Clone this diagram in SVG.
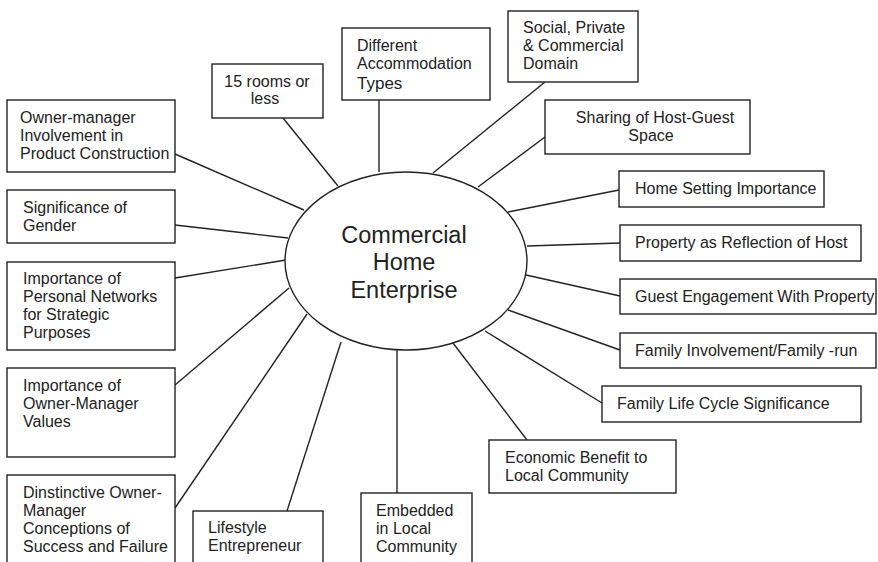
<svg xmlns="http://www.w3.org/2000/svg" width="878" height="562" viewBox="0 0 878 562">
  <style>
    .box { fill: #ffffff; stroke: #222222; stroke-width: 1.4; }
    .hub { fill: #ffffff; stroke: #222222; stroke-width: 1.4; }
    .link { stroke: #222222; stroke-width: 1.4; fill: none; }
    .lbl { font-family: "Liberation Sans", Arial, Helvetica, sans-serif; font-size: 16px; fill: #222222; }
    .mid { text-anchor: middle; }
    .hubtxt { font-family: "Liberation Sans", Arial, Helvetica, sans-serif; font-size: 23.5px; fill: #222222; text-anchor: middle; }
  </style>
  <rect width="878" height="562" fill="#ffffff"/>

  <!-- spokes from the central ellipse to each box -->
  <g id="connectors">
    <line class="link" x1="283" y1="118" x2="338" y2="186"/>
    <line class="link" x1="379" y1="100" x2="379" y2="172"/>
    <line class="link" x1="545" y1="82" x2="433" y2="173"/>
    <line class="link" x1="545" y1="137" x2="478" y2="187"/>
    <line class="link" x1="619" y1="190" x2="508" y2="212"/>
    <line class="link" x1="620" y1="243" x2="527" y2="246"/>
    <line class="link" x1="620" y1="296" x2="526" y2="275"/>
    <line class="link" x1="620" y1="350" x2="508" y2="310"/>
    <line class="link" x1="602" y1="403" x2="485" y2="331"/>
    <line class="link" x1="527" y1="440" x2="453" y2="343"/>
    <line class="link" x1="397" y1="493" x2="397" y2="350"/>
    <line class="link" x1="287" y1="511" x2="341" y2="342"/>
    <line class="link" x1="175" y1="508" x2="307" y2="314"/>
    <line class="link" x1="175" y1="385" x2="289" y2="288"/>
    <line class="link" x1="175" y1="278" x2="286" y2="260"/>
    <line class="link" x1="175" y1="225" x2="288" y2="238"/>
    <line class="link" x1="175" y1="154" x2="304" y2="210"/>
  </g>

  <g id="hub">
    <ellipse class="hub" cx="406" cy="261" rx="121" ry="89"/>
    <text class="hubtxt" x="404" y="243">Commercial</text>
    <text class="hubtxt" x="404" y="270">Home</text>
    <text class="hubtxt" x="404" y="298">Enterprise</text>
  </g>

  <g id="rooms">
    <rect class="box" x="212" y="64" width="111" height="54"/>
    <text class="lbl mid" x="267" y="87">15 rooms or</text>
    <text class="lbl mid" x="265" y="104">less</text>
  </g>

  <g id="accommodation">
    <rect class="box" x="342" y="28" width="148" height="72"/>
    <text class="lbl" x="357" y="51">Different</text>
    <text class="lbl" x="357" y="69">Accommodation</text>
    <text class="lbl" x="357" y="89" style="font-size:17px">Types</text>
  </g>

  <g id="domain">
    <rect class="box" x="508" y="11" width="130" height="71"/>
    <text class="lbl" x="523" y="33">Social, Private</text>
    <text class="lbl" x="523" y="51">&amp; Commercial</text>
    <text class="lbl" x="523" y="69">Domain</text>
  </g>

  <g id="sharing">
    <rect class="box" x="545" y="100" width="205" height="54"/>
    <text class="lbl mid" x="655" y="123">Sharing of Host-Guest</text>
    <text class="lbl mid" x="651" y="141">Space</text>
  </g>

  <g id="home-setting">
    <rect class="box" x="619" y="171" width="205" height="36"/>
    <text class="lbl" x="635" y="194">Home Setting Importance</text>
  </g>

  <g id="property">
    <rect class="box" x="620" y="225" width="241" height="36"/>
    <text class="lbl" x="635" y="248">Property as Reflection of Host</text>
  </g>

  <g id="guest">
    <rect class="box" x="620" y="279" width="256" height="35"/>
    <text class="lbl" x="635" y="302">Guest Engagement With Property</text>
  </g>

  <g id="family-run">
    <rect class="box" x="620" y="333" width="256" height="35"/>
    <text class="lbl" x="635" y="356">Family Involvement/Family -run</text>
  </g>

  <g id="life-cycle">
    <rect class="box" x="602" y="386" width="259" height="36"/>
    <text class="lbl" x="617" y="409">Family Life Cycle Significance</text>
  </g>

  <g id="economic">
    <rect class="box" x="489" y="440" width="187" height="53"/>
    <text class="lbl" x="505" y="463">Economic Benefit to</text>
    <text class="lbl" x="505" y="481">Local Community</text>
  </g>

  <g id="embedded">
    <rect class="box" x="361" y="493" width="111" height="80"/>
    <text class="lbl" x="376" y="516">Embedded</text>
    <text class="lbl" x="376" y="534">in Local</text>
    <text class="lbl" x="376" y="552">Community</text>
  </g>

  <g id="lifestyle">
    <rect class="box" x="193" y="511" width="130" height="62"/>
    <text class="lbl" x="208" y="533">Lifestyle</text>
    <text class="lbl" x="208" y="551">Entrepreneur</text>
  </g>

  <g id="conceptions">
    <rect class="box" x="7" y="475" width="168" height="98"/>
    <text class="lbl" x="23" y="498">Dinstinctive Owner-</text>
    <text class="lbl" x="23" y="516">Manager</text>
    <text class="lbl" x="23" y="534">Conceptions of</text>
    <text class="lbl" x="23" y="552">Success and Failure</text>
  </g>

  <g id="values">
    <rect class="box" x="7" y="368" width="168" height="89"/>
    <text class="lbl" x="23" y="391">Importance of</text>
    <text class="lbl" x="23" y="409">Owner-Manager</text>
    <text class="lbl" x="23" y="427">Values</text>
  </g>

  <g id="networks">
    <rect class="box" x="7" y="262" width="168" height="88"/>
    <text class="lbl" x="23" y="284">Importance of</text>
    <text class="lbl" x="23" y="302">Personal Networks</text>
    <text class="lbl" x="23" y="320">for Strategic</text>
    <text class="lbl" x="23" y="338">Purposes</text>
  </g>

  <g id="gender">
    <rect class="box" x="7" y="190" width="168" height="53"/>
    <text class="lbl" x="23" y="213">Significance of</text>
    <text class="lbl" x="23" y="231">Gender</text>
  </g>

  <g id="involvement">
    <rect class="box" x="7" y="100" width="168" height="72"/>
    <text class="lbl" x="20" y="123">Owner-manager</text>
    <text class="lbl" x="20" y="141">Involvement in</text>
    <text class="lbl" x="20" y="159">Product Construction</text>
  </g>
</svg>
